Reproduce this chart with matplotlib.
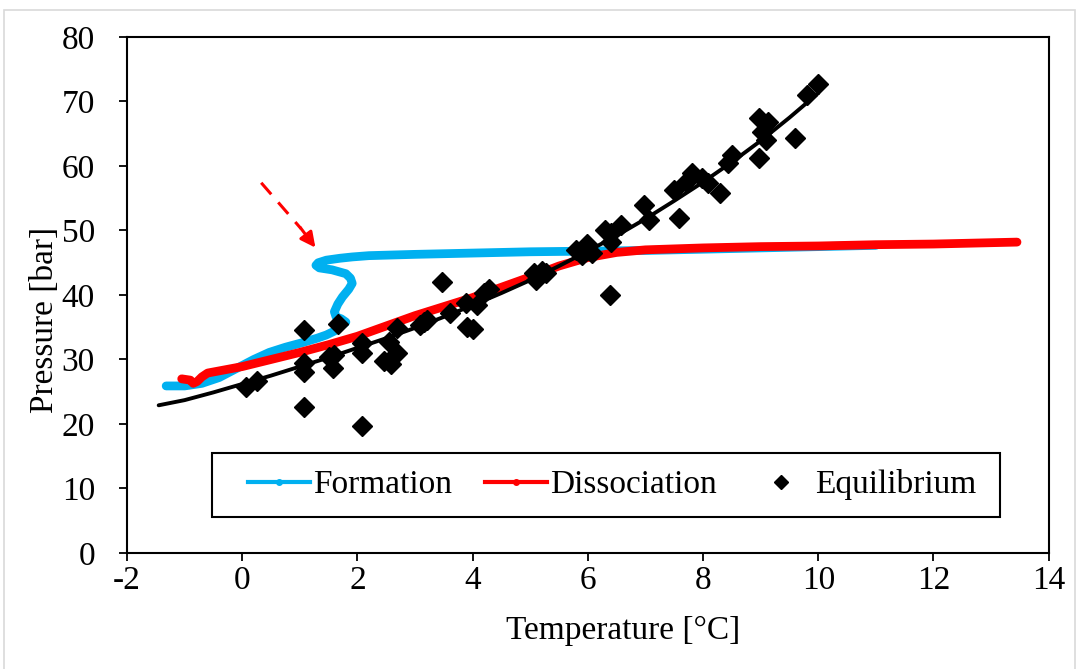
import matplotlib
matplotlib.use("Agg")
import matplotlib.pyplot as plt
from matplotlib.lines import Line2D
from matplotlib.patches import Rectangle

# formation (cooling) path
form_t = [-1.32, -1.0, -0.7, -0.4, -0.1, 0.2, 0.47, 0.75, 1.04, 1.3, 1.46, 1.6, 1.69, 1.8, 1.72,
          1.63, 1.6, 1.66, 1.74, 1.85, 1.91, 1.88, 1.8, 1.56, 1.34, 1.28, 1.32, 1.46, 1.7, 1.91,
          2.2, 3.0, 4.0, 5.0, 6.0, 7.0, 8.0, 9.0, 10.0, 11.0]
form_p = [25.9, 25.9, 26.3, 27.2, 28.6, 30.0, 31.1, 31.9, 32.6, 33.3, 33.8, 34.4, 35.0, 35.8, 36.3,
          36.6, 37.4, 38.6, 39.7, 40.9, 41.8, 42.6, 43.3, 43.9, 44.2, 44.6, 45.0, 45.4, 45.7, 45.9,
          46.1, 46.3, 46.5, 46.7, 46.8, 46.9, 47.1, 47.3, 47.5, 47.7]

# dissociation (heating) path
diss_t = [-1.05, -0.9, -0.85, -0.78, -0.7, -0.6, -0.3, 0.0, 0.5, 1.0, 1.5, 2.0, 2.5, 3.0, 3.5,
          4.0, 4.5, 5.0, 5.5, 6.0, 6.5, 7.0, 8.0, 9.0, 10.0, 11.0, 12.0, 13.45]
diss_p = [27.0, 26.8, 26.3, 26.6, 27.3, 27.9, 28.4, 28.9, 30.0, 31.1, 32.3, 33.6, 35.2, 36.8, 38.2,
          39.6, 41.2, 42.8, 44.5, 45.8, 46.6, 47.0, 47.3, 47.5, 47.6, 47.8, 47.9, 48.2]

# equilibrium data
eq_t = [0.07, 0.26, 1.08, 1.08, 1.08, 1.08, 1.51, 1.6, 1.58, 1.67, 2.08, 2.08, 2.08, 2.55, 2.69,
        2.68, 2.47, 2.59, 3.08, 3.16, 3.2, 3.47, 3.6, 3.89, 3.91, 4.0, 4.08, 4.2, 4.29, 5.07,
        5.1, 5.2, 5.28, 5.8, 5.9, 5.99, 6.08, 6.38, 6.41, 5.98, 6.29, 6.41, 6.58, 6.98, 7.07,
        7.5, 7.59, 7.71, 7.8, 7.99, 8.08, 8.29, 8.43, 8.51, 8.98, 8.98, 9.02, 9.12, 9.1, 9.59,
        9.8, 10.0]
eq_p = [25.7, 26.7, 34.6, 29.5, 28.1, 22.6, 30.4, 30.7, 28.7, 35.5, 32.6, 31.0, 19.7, 32.7, 34.9,
        31.0, 29.8, 29.3, 35.3, 35.8, 36.1, 42.0, 37.2, 38.8, 35.0, 34.7, 38.5, 40.3, 40.9, 43.4,
        42.3, 43.7, 43.4, 47.0, 46.2, 47.9, 46.5, 40.0, 48.2, 47.0, 50.1, 49.6, 50.9, 54.0, 51.6,
        56.3, 51.9, 57.5, 58.9, 58.1, 57.4, 55.8, 60.5, 61.7, 61.2, 67.4, 65.3, 66.8, 64.0, 64.3,
        71.0, 72.7]

# equilibrium fit line
fit_t = [-1.45, -1.0, -0.5, 0.0, 0.5, 1.0, 1.5, 2.0, 2.5, 3.0, 3.5, 4.0, 4.5, 5.0, 5.5, 6.0,
         6.5, 7.0, 7.5, 8.0, 8.5, 9.0, 9.5, 10.0]
fit_p = [22.9, 23.7, 24.9, 26.2, 27.5, 28.9, 30.3, 31.8, 33.3, 34.9, 36.6, 38.4, 40.3, 42.3,
         44.5, 46.8, 49.2, 51.8, 54.6, 57.5, 60.6, 63.9, 67.5, 71.3]

plt.rcParams["font.family"] = ["Liberation Serif", "DejaVu Serif"]
plt.rcParams["axes.unicode_minus"] = False

fig = plt.figure(figsize=(10.78, 6.69), dpi=100)
ax = fig.add_axes([0.1178, 0.1734, 0.855, 0.7713])

blue = "#00b0f0"
red = "#ff0000"

ax.plot(form_t, form_p, color=blue, lw=6.3, solid_capstyle="round", solid_joinstyle="round", zorder=2)
ax.plot(diss_t, diss_p, color=red, lw=6.3, solid_capstyle="round", solid_joinstyle="round", zorder=3)
ax.plot(fit_t, fit_p, color="black", lw=2.8, solid_capstyle="round", zorder=4)
ax.plot(eq_t, eq_p, "D", color="black", ms=10, zorder=5, lw=0)

# dashed arrow pointing at the formation kink
ax.plot([0.33, 1.02], [57.4, 50.3], color=red, lw=2.2, ls=(0, (5, 3.5)), zorder=6)
ax.annotate("", xy=(1.3, 47.0), xytext=(0.98, 50.8),
            arrowprops=dict(arrowstyle="-|>,head_length=0.9,head_width=0.45", color=red, lw=2.2),
            zorder=6)

ax.set_xlim(-2, 14)
ax.set_ylim(0, 80)
ax.set_xticks(range(-2, 15, 2))
ax.set_yticks(range(0, 81, 10))
ax.tick_params(axis="both", direction="out", length=6, width=1.3, labelsize=24, pad=3)
ax.tick_params(axis="y", pad=17)
ax.tick_params(top=False, right=False)
for s in ax.spines.values():
    s.set_linewidth(1.5)
    s.set_color("black")

ax.set_xlabel("Temperature [°C]", fontsize=24)
ax.set_ylabel("Pressure [bar]", fontsize=24)
ax.xaxis.set_label_coords(0.538, -0.122)
ax.yaxis.set_label_coords(-0.073, 0.452)

# legend box drawn separately so the entries can sit where they do in the original
ax.add_patch(Rectangle((0.0922, 0.0698), 0.855, 0.124, transform=ax.transAxes,
                       facecolor="white", edgecolor="black", lw=1.5, zorder=7))
handles = [
    Line2D([], [], color=blue, lw=3, marker="o", ms=4),
    Line2D([], [], color=red, lw=3, marker="o", ms=4),
    Line2D([], [], color="black", lw=0, marker="D", ms=7),
]
leg = ax.legend(handles, ["Formation", "Dissociation", "Equilibrium"], ncol=3,
                loc="center left", bbox_to_anchor=(0.1312, 0.1318),
                fontsize=24, frameon=False,
                handlelength=1.86, handletextpad=0.09, columnspacing=1.0, borderaxespad=0,
                borderpad=0)
leg.set_zorder(8)

fig.patches.append(Rectangle((0.004, -0.01), 0.993, 0.995, transform=fig.transFigure,
                             fill=False, edgecolor="#d9d9d9", lw=1.2))

fig.savefig("out.png", dpi=100)
